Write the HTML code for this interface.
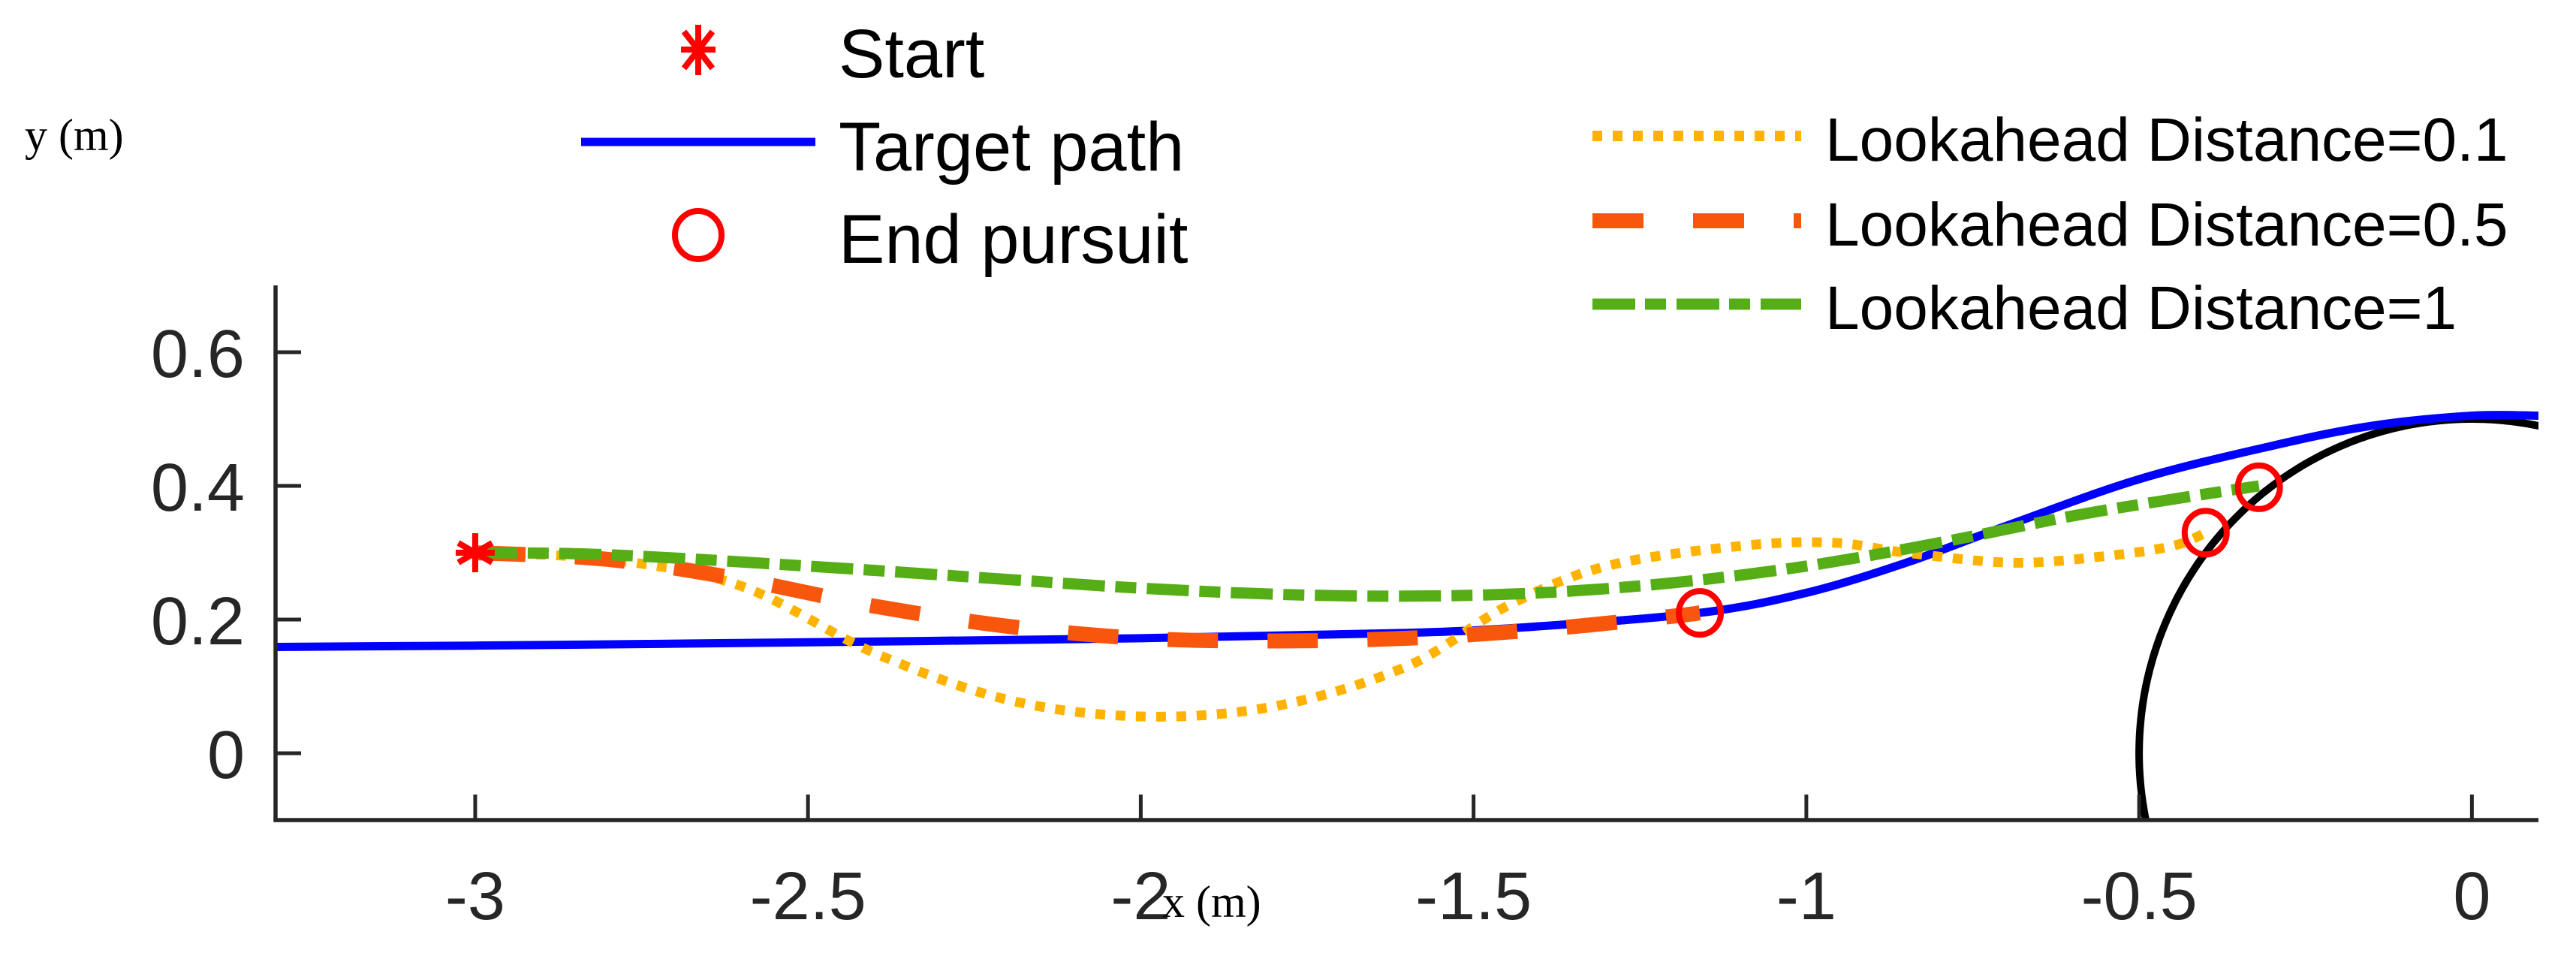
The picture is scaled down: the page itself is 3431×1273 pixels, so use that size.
<!DOCTYPE html>
<html><head><meta charset="utf-8"><style>
html,body{margin:0;padding:0;background:#fff;}
svg{display:block;}
</style></head><body>
<svg id="chart" width="3431" height="1273" viewBox="0 0 3431 1273" xmlns="http://www.w3.org/2000/svg">
<g id="plot"></g>
<g id="axes"></g>
<g id="legend"></g>
</svg>
<script>
const xTicks = [-3, -2.5, -2, -1.5, -1, -0.5, 0];
const xTickLabels = ["-3", "-2.5", "-2", "-1.5", "-1", "-0.5", "0"];
const yTicks = [0, 0.2, 0.4, 0.6];
const yTickLabels = ["0", "0.2", "0.4", "0.6"];
const targetX = [-3.3, -3, -2.5, -2, -1.6, -1.4, -1.16, -1, -0.85, -0.7, -0.5, -0.3, -0.15, 0, 0.1];
const targetY = [0.159, 0.161, 0.166, 0.172, 0.18, 0.19, 0.21, 0.24, 0.285, 0.34, 0.41, 0.46, 0.49, 0.505, 0.505];
const la01X = [-3, -2.8, -2.6, -2.4, -2.2, -2, -1.8, -1.6, -1.45, -1.3, -1.1, -0.96, -0.85, -0.69, -0.55, -0.45, -0.4];
const la01Y = [0.3, 0.29, 0.25, 0.15, 0.08, 0.055, 0.07, 0.13, 0.22, 0.28, 0.31, 0.315, 0.3, 0.285, 0.295, 0.31, 0.33];
const la05X = [-3, -2.8, -2.6, -2.4, -2.2, -2, -1.8, -1.6, -1.4, -1.2, -1.16];
const la05Y = [0.3, 0.29, 0.26, 0.22, 0.19, 0.172, 0.168, 0.172, 0.185, 0.205, 0.21];
const la1X = [-3, -2.8, -2.5, -2.2, -2, -1.8, -1.6, -1.4, -1.2, -1, -0.8, -0.6, -0.45, -0.32];
const la1Y = [0.3, 0.297, 0.28, 0.26, 0.247, 0.238, 0.235, 0.24, 0.255, 0.28, 0.315, 0.355, 0.38, 0.4];
const startPt = [-3, 0.3];
const endX = [-1.16, -0.4, -0.32];
const endY = [0.21, 0.33, 0.398];
const circleR = 0.5;

const NS = "http://www.w3.org/2000/svg";
const X0 = 367, X1 = 3381, Y0 = 1092, Y1 = 380;
const xMin = -3.3, xMax = 0.1, yMin = -0.1, yMax = 0.7;
function sx(v){ return X0 + (v - xMin) / (xMax - xMin) * (X1 - X0); }
function sy(v){ return Y0 - (v - yMin) / (yMax - yMin) * (Y0 - Y1); }
function mk(tag, attrs, parent){ const e = document.createElementNS(NS, tag); for (const k in attrs) e.setAttribute(k, attrs[k]); parent.appendChild(e); return e; }
function smooth(xs, ys){
  const p = xs.map((x,i)=>[sx(x), sy(ys[i])]);
  let d = "M" + p[0][0].toFixed(1) + "," + p[0][1].toFixed(1);
  for (let i=0;i<p.length-1;i++){
    const p0=p[Math.max(0,i-1)], p1=p[i], p2=p[i+1], p3=p[Math.min(p.length-1,i+2)];
    const c1=[p1[0]+(p2[0]-p0[0])/6, p1[1]+(p2[1]-p0[1])/6];
    const c2=[p2[0]-(p3[0]-p1[0])/6, p2[1]-(p3[1]-p1[1])/6];
    d += " C"+c1[0].toFixed(1)+","+c1[1].toFixed(1)+" "+c2[0].toFixed(1)+","+c2[1].toFixed(1)+" "+p2[0].toFixed(1)+","+p2[1].toFixed(1);
  }
  return d;
}
const plot = document.getElementById("plot");
const axes = document.getElementById("axes");
const defs = mk("defs", {}, plot);
const cp = mk("clipPath", {id:"clip"}, defs);
mk("rect", {x:X0, y:Y1, width:X1-X0, height:Y0-Y1}, cp);
const g = mk("g", {"clip-path":"url(#clip)"}, plot);

let cd = "";
for (let i=0;i<=200;i++){
  const a = Math.PI/2 + i/200*Math.PI*0.75;
  cd += (i? " L":"M") + sx(circleR*Math.cos(a)).toFixed(1) + "," + sy(circleR*Math.sin(a)).toFixed(1);
}
let arcRight = "";
for (let i=0;i<=40;i++){
  const a = Math.PI/2 - i/40*0.3;
  arcRight += (i? " L":"M") + sx(circleR*Math.cos(a)).toFixed(1) + "," + sy(circleR*Math.sin(a)).toFixed(1);
}
const circ = mk("path", {d:cd, fill:"none", stroke:"#000", "stroke-width":10}, g);


const circ2 = mk("path", {d:arcRight, fill:"none", stroke:"#000", "stroke-width":10}, g);



const tp = mk("path", {d:smooth(targetX, targetY), fill:"none", stroke:"#0000ff", "stroke-width":11}, g);


const l1 = mk("path", {d:smooth(la01X, la01Y), fill:"none", stroke:"#ffb300", "stroke-width":13, "stroke-dasharray":"13 14"}, g);


const l5 = mk("path", {d:smooth(la05X, la05Y), fill:"none", stroke:"#f8560d", "stroke-width":20, "stroke-dasharray":"67 66"}, g);


const l10 = mk("path", {d:smooth(la1X, la1Y), fill:"none", stroke:"#56ae16", "stroke-width":15, "stroke-dasharray":"56 14 28 14"}, g);



for (let i=0;i<endX.length;i++){
  const c = mk("ellipse", {cx:sx(endX[i]), cy:sy(endY[i]), rx:28, ry:29, fill:"none", stroke:"#ff0000", "stroke-width":8}, plot);
  
  
}
function star(cx, cy, r, parent, name){
  const s = mk("g", {stroke:"#ff0000", "stroke-width":8}, parent);
  
  
  for (let k=0;k<3;k++){
    const a = Math.PI/2 + k*Math.PI/3;
    mk("line", {x1:cx-r*Math.cos(a), y1:cy-r*Math.sin(a), x2:cx+r*Math.cos(a), y2:cy+r*Math.sin(a)}, s);
  }
  mk("line", {x1:cx-r, y1:cy, x2:cx+r, y2:cy}, s);
}
star(sx(startPt[0]), sy(startPt[1]), 26, plot, 'start-marker');

const ax = mk("path", {d:`M${X0},${Y1} L${X0},${Y0} L${X1},${Y0}`, fill:"none", stroke:"#262626", "stroke-width":5.5}, axes);


xTicks.forEach((v,i)=>{
  const t = mk("line", {x1:sx(v), y1:Y0, x2:sx(v), y2:Y0-34, stroke:"#262626", "stroke-width":5}, axes);
  
  
  const tx = mk("text", {x:sx(v), y:1224, "text-anchor":"middle", "font-family":"Liberation Sans, Arial, sans-serif", "font-size":90, fill:"#262626"}, axes);
  
  
  tx.textContent = xTickLabels[i];
});
yTicks.forEach((v,i)=>{
  const t = mk("line", {x1:X0, y1:sy(v), x2:X0+34, y2:sy(v), stroke:"#262626", "stroke-width":5}, axes);
  
  
  const tx = mk("text", {x:326, y:sy(v)+33, "text-anchor":"end", "font-family":"Liberation Sans, Arial, sans-serif", "font-size":90, fill:"#262626"}, axes);
  
  
  tx.textContent = yTickLabels[i];
});
</script>
<script>
(function(){
const NS = "http://www.w3.org/2000/svg";
const legend = document.getElementById("legend");
function mk(tag, attrs, parent){ const e = document.createElementNS(NS, tag); for (const k in attrs) e.setAttribute(k, attrs[k]); parent.appendChild(e); return e; }
const xl = mk("text", {x:1548, y:1221, "font-family":"Liberation Serif, serif", "font-size":60, fill:"#000"}, legend);


xl.textContent = "x (m)";
const yl = mk("text", {x:33, y:200, "font-family":"Liberation Serif, serif", "font-size":60, fill:"#000"}, legend);


yl.textContent = "y (m)";

const st = mk("g", {stroke:"#ff0000", "stroke-width":8}, legend);


[[930,33,930,100],[911,42,949,91],[949,42,911,91],[907,66,953,66]].forEach(l=>mk("line",{x1:l[0],y1:l[1],x2:l[2],y2:l[3]},st));
const bl = mk("line", {x1:774, y1:189, x2:1086, y2:189, stroke:"#0000ff", "stroke-width":11}, legend);


const ec = mk("ellipse", {cx:930, cy:313, rx:31, ry:32, fill:"none", stroke:"#ff0000", "stroke-width":8}, legend);


[["Start",103,'legend-start-label'],["Target path",227,'legend-target-label'],["End pursuit",350,'legend-end-label']].forEach(r=>{
  const t = mk("text", {x:1117, y:r[1], "font-family":"Liberation Sans, Arial, sans-serif", "font-size":92, fill:"#000"}, legend);
  
  
  t.textContent = r[0];
});
const rows = [
  ["Lookahead Distance=0.1", 181, 214, "#ffb300", 14, "13 14"],
  ["Lookahead Distance=0.5", 294, 327, "#f8560d", 20, "68 66"],
  ["Lookahead Distance=1", 405, 438, "#56ae16", 15, "57 13 28 14"]
];
rows.forEach((r)=>{
  const l = mk("line", {x1:2121, y1:r[1], x2:2399, y2:r[1], stroke:r[3], "stroke-width":r[4], "stroke-dasharray":r[5]}, legend);
  
  
  const t = mk("text", {x:2431, y:r[2], "font-family":"Liberation Sans, Arial, sans-serif", "font-size":82, fill:"#000"}, legend);
  
  
  t.textContent = r[0];
});
})();
</script>
</body></html>
